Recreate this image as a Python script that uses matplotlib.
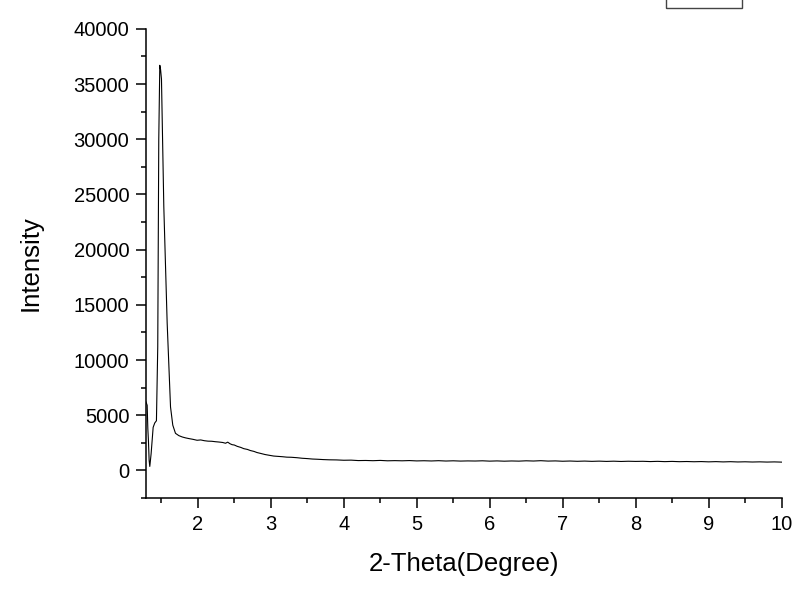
import matplotlib
matplotlib.use("Agg")
import matplotlib.pyplot as plt
from matplotlib.patches import Rectangle
from matplotlib.ticker import MultipleLocator

plt.rcParams['font.family'] = ['Liberation Sans', 'DejaVu Sans']

# values (one row of angles per row of intensities)
two_theta = [1.29, 1.306, 1.315, 1.324, 1.333, 1.342, 1.36, 1.388, 1.41, 1.433,
             1.451, 1.465, 1.479, 1.49, 1.502, 1.534, 1.58, 1.626, 1.657, 1.694,
             1.74, 1.786, 1.83, 1.88, 1.93, 1.99, 2.04, 2.09, 2.14, 2.19,
             2.24, 2.29, 2.34, 2.38, 2.41, 2.44, 2.47, 2.50, 2.54, 2.59,
             2.63, 2.68, 2.72, 2.77, 2.81, 2.86, 2.92, 2.97, 3.04, 3.10,
             3.16, 3.22, 3.28, 3.36, 3.43, 3.50, 3.57, 3.64, 3.72, 3.8,
             3.9, 4.0, 4.1, 4.2, 4.3, 4.4, 4.5, 4.6, 4.7, 4.8,
             4.9, 5.0, 5.1, 5.2, 5.3, 5.4, 5.5, 5.6, 5.7, 5.8,
             5.9, 6.0, 6.1, 6.2, 6.3, 6.4, 6.5, 6.6, 6.7, 6.8,
             6.9, 7.0, 7.1, 7.2, 7.3, 7.4, 7.5, 7.6, 7.7, 7.8,
             7.9, 8.0, 8.1, 8.2, 8.3, 8.4, 8.5, 8.6, 8.7, 8.8,
             8.9, 9.0, 9.1, 9.2, 9.3, 9.4, 9.5, 9.6, 9.7, 9.8,
             9.9, 10.0]
intensity = [6200, 5900, 3800, 2600, 900, 360, 1500, 3900, 4300, 4500,
             11200, 30000, 36700, 36300, 35450, 23900, 13360, 5750, 4100, 3360,
             3150, 3030, 2950, 2880, 2820, 2730, 2760, 2690, 2650, 2640,
             2600, 2570, 2530, 2460, 2560, 2420, 2330, 2300, 2180, 2080,
             1970, 1900, 1800, 1720, 1620, 1540, 1440, 1380, 1300, 1270,
             1240, 1200, 1190, 1150, 1100, 1070, 1030, 1010, 980, 960,
             950, 920, 930, 890, 900, 880, 905, 870, 885, 870,
             890, 860, 875, 855, 880, 850, 870, 845, 860, 850,
             870, 840, 860, 835, 855, 840, 870, 850, 880, 845,
             860, 830, 850, 825, 845, 820, 840, 815, 835, 810,
             830, 815, 825, 800, 820, 795, 815, 790, 805, 785,
             800, 775, 795, 770, 790, 765, 780, 760, 775, 755,
             770, 750]

fig = plt.figure(figsize=(8, 5.89), dpi=100)
ax = fig.add_axes([0.1825, 0.1545, 0.7945, 0.7965])

ax.plot(two_theta, intensity, color='black', lw=0.8)

ax.set_xlim(1.29, 10)
ax.set_ylim(-2500, 40000)
ax.xaxis.set_minor_locator(MultipleLocator(0.5))
ax.yaxis.set_major_locator(MultipleLocator(5000))
ax.yaxis.set_minor_locator(MultipleLocator(2500))
ax.set_xticks([2, 3, 4, 5, 6, 7, 8, 9, 10])
ax.set_yticks([0, 5000, 10000, 15000, 20000, 25000, 30000, 35000, 40000])

ax.spines['top'].set_visible(False)
ax.spines['right'].set_visible(False)
for s in ('left', 'bottom'):
    ax.spines[s].set_linewidth(1.1)

ax.tick_params(which='major', direction='out', length=7, width=1.1,
               labelsize=14.5, pad=5)
ax.tick_params(which='minor', direction='out', length=3.5, width=1.1)

ax.set_xlabel('2-Theta(Degree)', fontsize=18.5, labelpad=13)
ax.set_ylabel('Intensity', fontsize=18.5, labelpad=22)

# legend frame cut off at the top edge
fig.patches.append(Rectangle((0.8325, 0.9864), 0.095, 0.03, transform=fig.transFigure,
                             fill=False, edgecolor='#444444', lw=1.0))

fig.savefig('out.png', dpi=100)
